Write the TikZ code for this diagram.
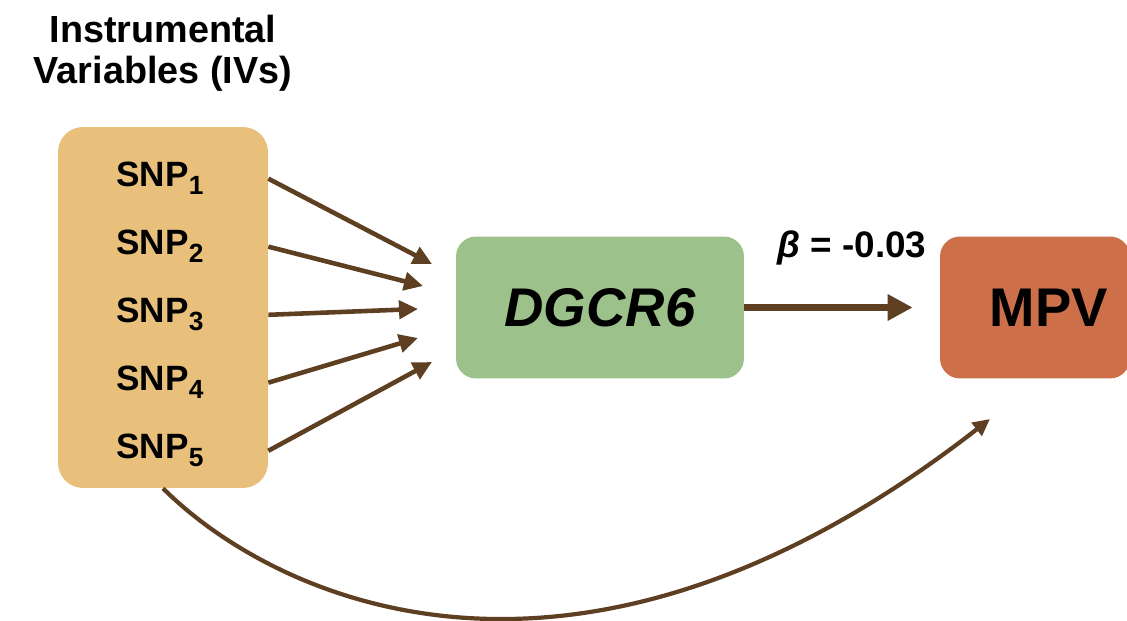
\documentclass[tikz,border=0pt]{standalone}
\usepackage{fontspec}
\setmainfont{Liberation Sans}
\usetikzlibrary{arrows.meta}

\definecolor{ivfill}{HTML}{E8C07C}
\definecolor{genefill}{HTML}{9DC18A}
\definecolor{outfill}{HTML}{CD7049}
\definecolor{arr}{HTML}{5E3F22}
\newcommand\snpsub[1]{\raisebox{-4.5pt}{\fontsize{15}{15}\selectfont#1}}

\begin{document}
\begin{tikzpicture}[x=.02cm,y=.02cm,font=\bfseries,
  blk/.style={rounded corners=.4cm,inner sep=0pt,minimum height=2.84cm},
  snp/.style={font=\bfseries\fontsize{20}{24}\selectfont,anchor=base},
  arw/.style={draw=arr,line width=2.6pt,-{Triangle[length=.38cm,width=.36cm]}}]
\useasboundingbox (0,0) rectangle (1127,621);
\node[align=center,font=\bfseries\fontsize{21.5}{23.2}\selectfont] (ttl) at (163,568) {Instrumental\\Variables (IVs)};
% boxes
\node[blk,fill=ivfill,rounded corners=.5cm,minimum width=4.2cm,minimum height=7.22cm] (iv) at (163,313.5) {};
\node[blk,fill=genefill,minimum width=5.76cm,font=\bfseries\itshape\fontsize{31}{36}\selectfont] (dg) at (600,313.5) {DGCR6};
\node[blk,fill=outfill,minimum width=3.8cm] (mpv) at (1035,313.5) {};
\node[font=\bfseries\fontsize{31}{36}\selectfont] (mpvtxt) at (1049,313.5) {MPV};
\foreach \i/\y in {1/434,2/366,3/298,4/230,5/162}
  \node[snp] (snp\i) at (160,\y) {SNP\snpsub{\i}};
% the five instruments into the gene
\foreach \i/\tx/\ty in {1/432/357,2/423/335,3/418/312,4/418/283,5/432/259}{
  \coordinate (t\i) at (\tx,\ty);
  \draw[arw] (iv.east |- snp\i) -- (t\i);}
\draw[arw,line width=4.5pt,-{Triangle[length=.5cm,width=.5cm]},shorten >=.54cm] (dg.east) -- (mpv.west);
\node[font=\bfseries\fontsize{21}{24}\selectfont] (beta) at (852,373) {\textit{β} = -0.03};
% direct path
\coordinate (crv) at (990,202);
\draw[arw,line width=2.4pt,-{Triangle[length=.34cm,width=.32cm]}] (iv.south) .. controls +(106,-106) and +(-420,-327) .. (crv);
\end{tikzpicture}
\end{document}
